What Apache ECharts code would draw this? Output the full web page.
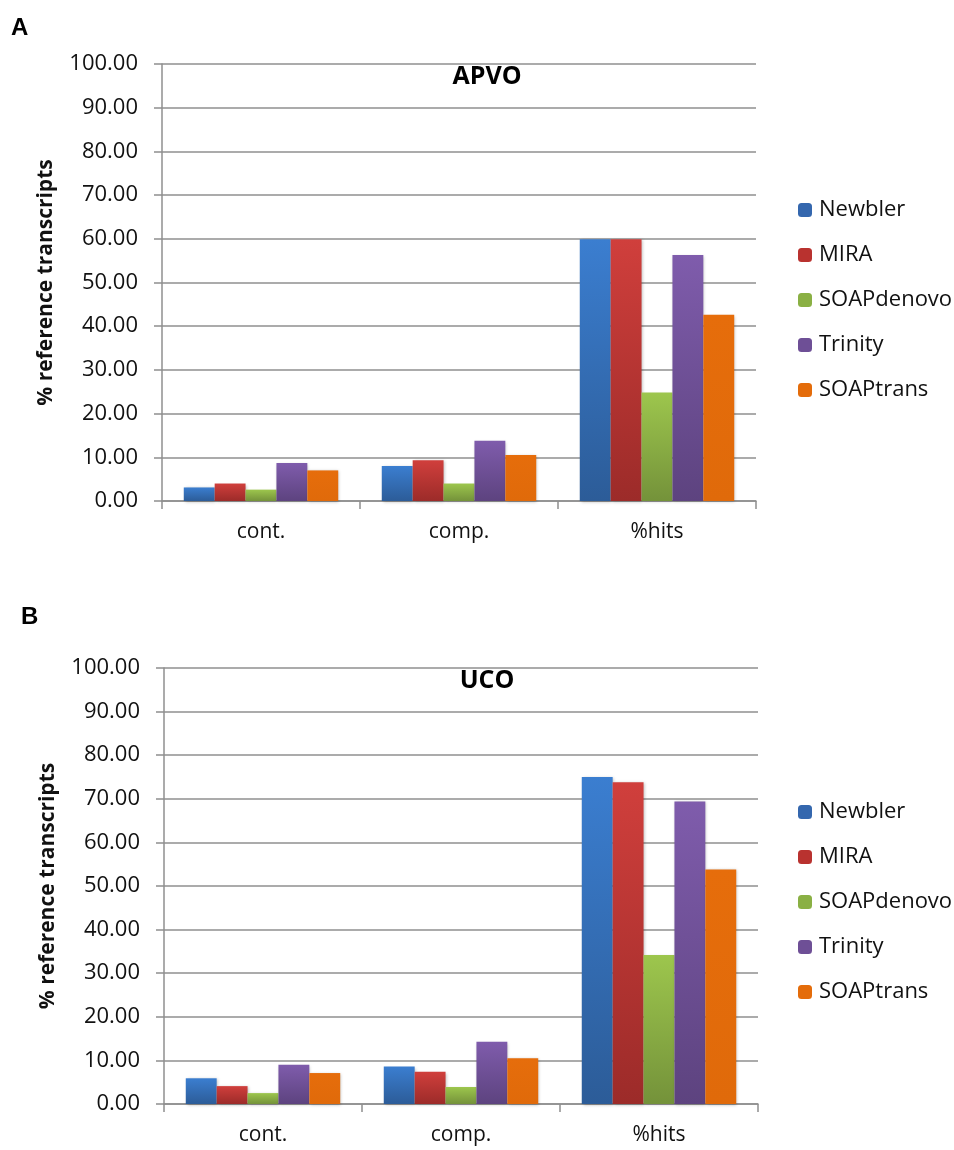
<!DOCTYPE html>
<html><head><meta charset="utf-8">
<script src="https://cdn.jsdelivr.net/npm/echarts@6/dist/echarts.min.js"></script>
<style>html,body{margin:0;padding:0;background:#fff}#c{width:954px;height:1150px}</style>
</head><body><div id="c"></div>
<script>
const categories = ['cont.', 'comp.', '%hits'];
const seriesNames = ['Newbler', 'MIRA', 'SOAPdenovo', 'Trinity', 'SOAPtrans'];
const yTicks = [0, 10, 20, 30, 40, 50, 60, 70, 80, 90, 100];
// Panel A: APVO
const apvoNewbler = [3.1, 8.0, 59.9];
const apvoMIRA = [4.0, 9.3, 59.9];
const apvoSOAPdenovo = [2.6, 4.0, 24.8];
const apvoTrinity = [8.7, 13.8, 56.3];
const apvoSOAPtrans = [7.0, 10.5, 42.6];
// Panel B: UCO
const ucoNewbler = [5.9, 8.6, 75.0];
const ucoMIRA = [4.1, 7.4, 73.8];
const ucoSOAPdenovo = [2.5, 3.9, 34.2];
const ucoTrinity = [9.0, 14.3, 69.4];
const ucoSOAPtrans = [7.1, 10.5, 53.8];

const apvo = [apvoNewbler, apvoMIRA, apvoSOAPdenovo, apvoTrinity, apvoSOAPtrans];
const uco = [ucoNewbler, ucoMIRA, ucoSOAPdenovo, ucoTrinity, ucoSOAPtrans];

const grads = [
  ['#3B7ED0', '#2C5C98'],
  ['#D03F3C', '#9C2B29'],
  ['#9DC64D', '#74923A'],
  ['#7F5CAC', '#5D437F'],
  ['#E66D0B', '#E06A0A']
];
const legendColors = ['#3467AE', '#B9322F', '#8AB044', '#6E4F96', '#E46C0A'];
const FONT = '"Open Sans", "Noto Sans", sans-serif';
const grid = '#8f8f8f';

function makeColor(i) {
  return new echarts.graphic.LinearGradient(0, 0, 0, 1, [
    {offset: 0, color: grads[i][0]}, {offset: 1, color: grads[i][1]}
  ]);
}

function xAxis(gi) {
  return {
    type: 'category', gridIndex: gi, data: categories,
    axisLine: {lineStyle: {color: grid, width: 1.5}},
    axisTick: {show: true, length: 8, lineStyle: {color: grid, width: 1.5}, alignWithLabel: false},
    axisLabel: {color: '#111', fontSize: 21, fontFamily: FONT, margin: 21}
  };
}
function yAxis(gi) {
  return {
    type: 'value', gridIndex: gi, min: yTicks[0], max: yTicks[yTicks.length - 1], interval: 10,
    name: '% reference transcripts', nameLocation: 'middle', nameGap: 105, nameRotate: 90,
    nameTextStyle: {color: '#111', fontSize: 21, fontWeight: 'bold', fontFamily: FONT},
    axisLine: {show: true, lineStyle: {color: grid, width: 1.5}},
    axisTick: {show: true, length: 8, lineStyle: {color: grid, width: 1.5}},
    splitLine: {lineStyle: {color: grid, width: 1.5}},
    axisLabel: {color: '#111', fontSize: 22, fontFamily: FONT, margin: 24, formatter: v => v.toFixed(2)}
  };
}
function makeSeries(data, gi) {
  return data.map((d, i) => ({
    name: seriesNames[i], type: 'bar', xAxisIndex: gi, yAxisIndex: gi, data: d,
    barGap: '0%', barCategoryGap: '22%',
    itemStyle: {color: makeColor(i), shadowColor: 'rgba(0,0,0,0.25)', shadowBlur: 3, shadowOffsetX: 1, shadowOffsetY: 1},
    emphasis: {disabled: true}
  }));
}
function legend(top) {
  return {
    orient: 'vertical', left: 798, top: top, padding: 0, itemWidth: 14, itemHeight: 14, itemGap: 23,
    data: seriesNames.map((n, i) => ({name: n, itemStyle: {color: legendColors[i]}})),
    textStyle: {color: '#111', fontSize: 22, fontFamily: FONT, padding: [0, 0, 0, 2]},
    selectedMode: false
  };
}

const chart = echarts.init(document.getElementById('c'), null, {renderer: 'canvas'});
chart.setOption({
  animation: false,
  backgroundColor: '#fff',
  title: [
    {text: 'APVO', left: 487, top: 64, textAlign: 'center', padding: 0, textStyle: {fontSize: 25, fontWeight: 'bold', color: '#000', fontFamily: FONT}},
    {text: 'UCO', left: 487, top: 668, textAlign: 'center', padding: 0, textStyle: {fontSize: 25, fontWeight: 'bold', color: '#000', fontFamily: FONT}}
  ],
  graphic: [
    {type: 'text', left: 11, top: 16, style: {text: 'A', fontSize: 24, fontWeight: 'bold', fill: '#000', fontFamily: 'Liberation Sans, Arial, sans-serif'}},
    {type: 'text', left: 21, top: 605, style: {text: 'B', fontSize: 24, fontWeight: 'bold', fill: '#000', fontFamily: 'Liberation Sans, Arial, sans-serif'}}
  ],
  legend: [legend(199), legend(801)],
  grid: [
    {left: 162, top: 64, width: 594, height: 437},
    {left: 164, top: 668, width: 594, height: 436}
  ],
  xAxis: [xAxis(0), xAxis(1)],
  yAxis: [yAxis(0), yAxis(1)],
  series: makeSeries(apvo, 0).concat(makeSeries(uco, 1))
});
</script>
</body></html>
